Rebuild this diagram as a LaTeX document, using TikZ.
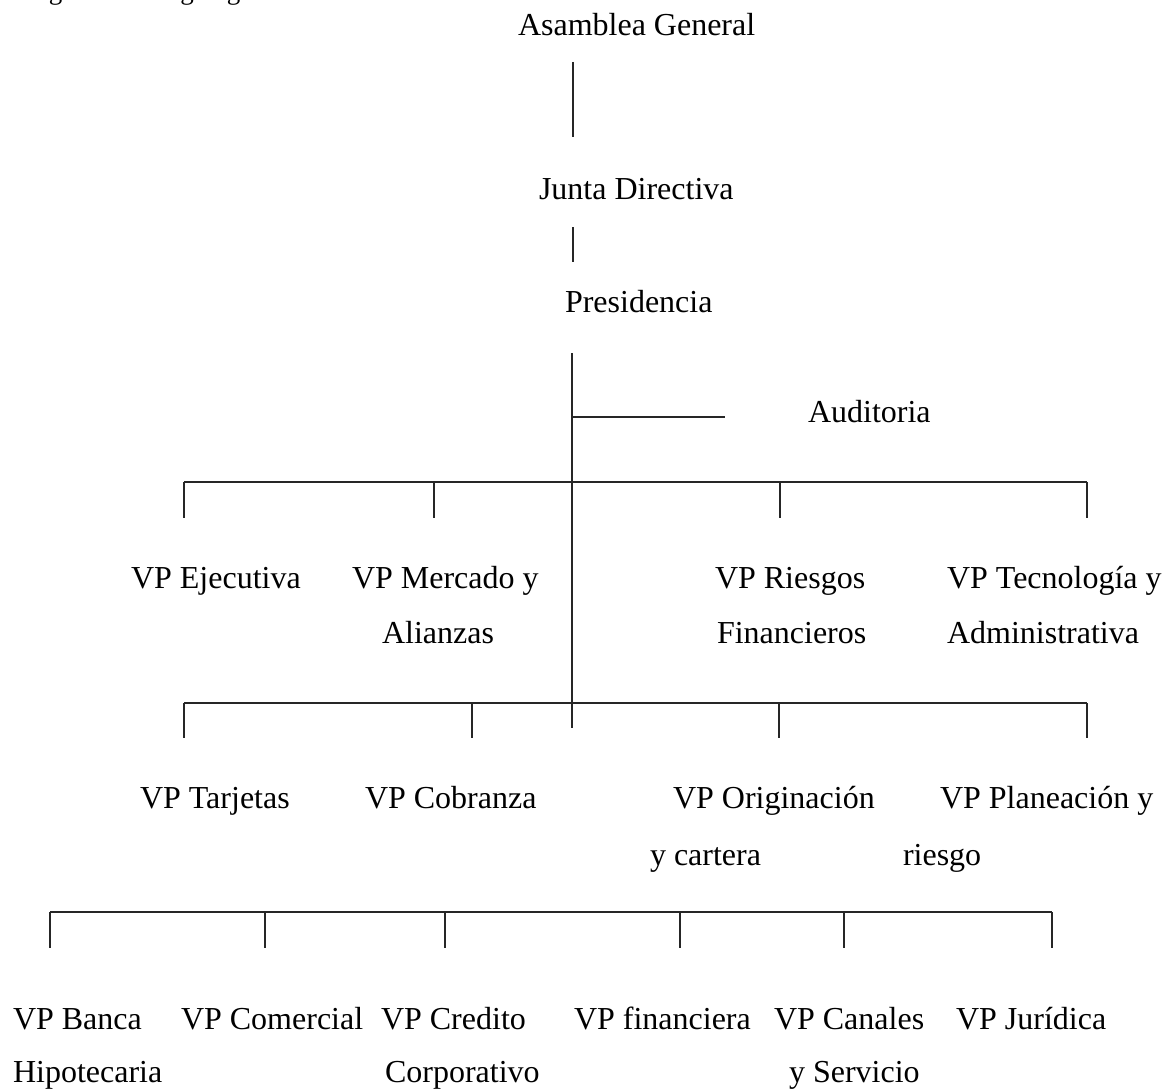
\documentclass[tikz,border=0pt]{standalone}
\usepackage{fontspec}
\setmainfont{Liberation Serif}
\begin{document}
\begin{tikzpicture}[x=1pt,y=-1pt,
  lbl/.style={anchor=base west,inner sep=0pt,outer sep=0pt,
    font=\fontsize{32}{38}\selectfont},
  captext/.style={anchor=base west,inner sep=0pt,outer sep=0pt,
    font=\fontsize{27}{32}\selectfont},
  wire/.style={line width=1.3pt,draw=black!85,line cap=butt}]
\useasboundingbox (0,0) rectangle (1162,1089);
\clip (0,0) rectangle (1162,1089);

% caption running off the top edge
\node[captext] (caption) at (10,-0.5) {Diagrama 4. Organigrama del Banco Davivienda};

% top of the hierarchy
\node[lbl] (asamblea) at (518,36) {Asamblea General};
\node[lbl] (junta) at (539,200) {Junta Directiva};
\node[lbl] (presidencia) at (565,312) {Presidencia};
\node[lbl] (auditoria) at (808,422) {Auditoria};

% first level of vice presidencies
\node[lbl] (ejec) at (131,588) {VP Ejecutiva};
\node[lbl] (merc) at (352,588) {VP Mercado y};
\node[lbl] (merc2) at (382,643) {Alianzas};
\node[lbl] (ries) at (715,588) {VP Riesgos};
\node[lbl] (ries2) at (717,643) {Financieros};
\node[lbl] (tecn) at (947,588) {VP Tecnología y};
\node[lbl] (tecn2) at (947,643) {Administrativa};

% second level
\node[lbl] (tarj) at (140,808) {VP Tarjetas};
\node[lbl] (cobr) at (365,808) {VP Cobranza};
\node[lbl] (orig) at (673,808) {VP Originación};
\node[lbl] (orig2) at (650,865) {y cartera};
\node[lbl] (plan) at (940,808) {VP Planeación y};
\node[lbl] (plan2) at (903,865) {riesgo};

% third level
\node[lbl] (banca) at (13,1029) {VP Banca};
\node[lbl] (banca2) at (13,1082) {Hipotecaria};
\node[lbl] (come) at (181,1029) {VP Comercial};
\node[lbl] (cred) at (381,1029) {VP Credito};
\node[lbl] (cred2) at (385,1082) {Corporativo};
\node[lbl] (fina) at (574,1029) {VP financiera};
\node[lbl] (cana) at (774,1029) {VP Canales};
\node[lbl] (cana2) at (789,1082) {y Servicio};
\node[lbl] (juri) at (956,1029) {VP Jurídica};

% connector end points
\coordinate (aT) at (573,62);   \coordinate (aB) at (573,137);
\coordinate (jT) at (573,227);  \coordinate (jB) at (573,262);
\coordinate (pT) at (572,353);  \coordinate (pB) at (572,728);
\coordinate (audJ) at (572,417); \coordinate (audE) at (725,417);

\coordinate (b1L) at (184,482); \coordinate (b1R) at (1087,482);
\coordinate (b1a) at (184,518); \coordinate (b1b) at (434,518);
\coordinate (b1c) at (780,518); \coordinate (b1d) at (1087,518);

\coordinate (b2L) at (184,703); \coordinate (b2R) at (1087,703);
\coordinate (b2a) at (184,738); \coordinate (b2b) at (472,738);
\coordinate (b2c) at (779,738); \coordinate (b2d) at (1087,738);

\coordinate (b3L) at (50,912);  \coordinate (b3R) at (1052,912);
\coordinate (b3a) at (50,948);  \coordinate (b3b) at (265,948);
\coordinate (b3c) at (445,948); \coordinate (b3d) at (680,948);
\coordinate (b3e) at (844,948); \coordinate (b3f) at (1052,948);

% vertical trunk
\draw[wire] (aT) -- (aB);
\draw[wire] (jT) -- (jB);
\draw[wire] (pT) -- (pB);
\draw[wire] (audJ) -- (audE);

% first bus
\draw[wire] (b1L) -- (b1R);
\foreach \d in {b1a,b1b,b1c,b1d} \draw[wire] (\d |- b1L) -- (\d);

% second bus
\draw[wire] (b2L) -- (b2R);
\foreach \d in {b2a,b2b,b2c,b2d} \draw[wire] (\d |- b2L) -- (\d);

% third bus
\draw[wire] (b3L) -- (b3R);
\foreach \d in {b3a,b3b,b3c,b3d,b3e,b3f} \draw[wire] (\d |- b3L) -- (\d);
\end{tikzpicture}
\end{document}
